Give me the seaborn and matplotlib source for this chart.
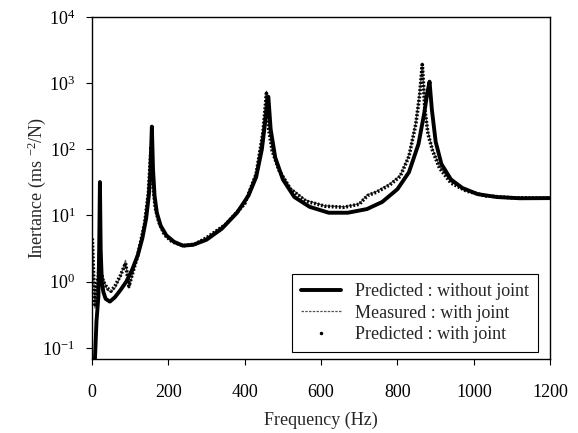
import numpy as np
import matplotlib
matplotlib.use("Agg")
import matplotlib.pyplot as plt
from matplotlib.lines import Line2D
import seaborn as sns
from matplotlib.ticker import LogLocator, NullLocator, LogFormatterSciNotation

# Predicted : without joint (thick solid)
f_pred_nj = [7, 12, 17, 19, 21, 23, 26, 30, 36, 47, 60, 75, 90, 105, 120, 132, 142, 149, 153, 157,
             160, 164, 170, 180, 195, 215, 238, 265, 300, 340, 380, 410, 430, 445, 455, 462,
             468, 480, 500, 530, 570, 620, 670, 720, 760, 800, 830, 855, 870, 878, 884,
             890, 900, 915, 940, 970, 1010, 1060, 1120, 1200]
v_pred_nj = [0.05, 0.25, 0.6, 3.0, 32, 3.0, 1.0, 0.7, 0.55, 0.5, 0.58, 0.75, 1.0, 1.5, 2.5, 4.5,
             9, 20, 45, 220, 50, 20, 11, 7, 5, 4.0, 3.5, 3.6, 4.3, 6.3, 11, 20, 38, 100, 300, 620,
             200, 75, 35, 19, 13.5, 11, 11, 12.5, 16, 25, 45, 120, 350, 700, 1050,
             400, 130, 60, 35, 26, 21, 19, 18.2, 18.3]

# Measured : with joint (thin line)
f_meas = [1, 4, 8, 12, 17, 21, 24, 30, 40, 50, 60, 75, 88, 97, 105, 120, 138, 148, 155, 160,
          166, 175, 190, 210, 240, 270, 300, 350, 400, 430, 448, 457, 463, 472, 490, 520,
          560, 610, 660, 700, 712, 722, 745, 780, 807, 830, 848, 858, 865, 872, 880,
          892, 910, 940, 980, 1030, 1100, 1200]
v_meas = [5, 1.5, 0.4, 0.8, 1.3, 4, 1.5, 1.1, 0.75, 0.7, 0.8, 1.2, 2.1, 0.8, 1.2, 2.6, 8, 25, 120, 30,
          14, 8, 5.2, 4.0, 3.5, 3.7, 4.6, 7.5, 16, 45, 200, 750, 220, 100, 50, 26,
          17, 14, 13.5, 15, 18, 20.5, 23, 30, 40, 80, 250, 700, 2000, 400, 180,
          100, 55, 32, 24, 20, 18.5, 18.3]

# Predicted : with joint (dotted)
f_pred_j = [1, 4, 8, 12, 17, 21, 24, 30, 40, 50, 60, 75, 88, 97, 105, 120, 138, 148, 155, 160,
            166, 175, 190, 210, 240, 270, 300, 350, 400, 430, 448, 457, 463, 472, 490, 520,
            560, 610, 660, 700, 712, 722, 745, 780, 807, 830, 848, 858, 865, 872, 880,
            892, 910, 940, 980, 1030, 1100, 1200]
v_pred_j = [4.5, 1.4, 0.45, 0.85, 1.2, 3.5, 1.4, 1.0, 0.8, 0.72, 0.85, 1.25, 1.9, 0.85, 1.25, 2.5, 7.5, 22, 110, 28,
            13, 8, 5.1, 4.0, 3.5, 3.7, 4.6, 7.3, 15, 42, 180, 700, 200, 95, 48, 25,
            16.5, 13.8, 13.3, 14.8, 17.5, 20, 22.5, 29, 39, 78, 240, 650, 1900, 380, 170,
            95, 52, 31, 23.5, 19.8, 18.5, 18.3]

sns.set_style("ticks")
plt.rcParams['font.family'] = ['Liberation Serif', 'DejaVu Serif']
plt.rcParams['mathtext.fontset'] = 'custom'
plt.rcParams['mathtext.rm'] = 'Liberation Serif'
plt.rcParams['mathtext.it'] = 'Liberation Serif:italic'

fig, ax = plt.subplots(figsize=(5.78, 4.33), dpi=100)
fig.subplots_adjust(left=0.159, right=0.952, top=0.961, bottom=0.171)

sns.lineplot(x=f_meas, y=v_meas, ax=ax, color='#555555', linewidth=0.9, sort=False)
sns.lineplot(x=f_pred_j, y=v_pred_j, ax=ax, color='black', linewidth=2.6, sort=False,
             linestyle=(0, (0.5, 0.5)))
sns.lineplot(x=f_pred_nj, y=v_pred_nj, ax=ax, color='black', linewidth=2.8, sort=False)

ax.set_yscale('log')
ax.set_xlim(0, 1200)
ax.set_ylim(0.068, 1e4)
ax.set_xticks([0, 200, 400, 600, 800, 1000, 1200])
ax.yaxis.set_major_locator(LogLocator(base=10, numticks=10))
ax.yaxis.set_major_formatter(LogFormatterSciNotation())
ax.yaxis.set_minor_locator(NullLocator())
ax.tick_params(axis='both', labelsize=13, length=4, width=0.8, direction='out', colors='black')
ax.tick_params(axis='x', pad=14)
ax.tick_params(axis='y', pad=8)
for s in ax.spines.values():
    s.set_linewidth(1.0)
    s.set_color('black')

ax.set_xlabel('Frequency (Hz)', fontsize=13, labelpad=8)
ax.set_ylabel('Inertance (ms $^{-2}$/N)', fontsize=13, labelpad=-4)

handles = [Line2D([], [], color='black', linewidth=2.8),
           Line2D([], [], color='#555555', linewidth=0.9, linestyle=(0, (2, 1))),
           Line2D([], [], color='black', linestyle='none', marker='.', markersize=3)]
labels = ['Predicted : without joint', 'Measured : with joint', 'Predicted : with joint']
leg = ax.legend(handles, labels, loc='lower right', bbox_to_anchor=(0.974, 0.02), fontsize=13,
                frameon=True, fancybox=False, edgecolor='black', framealpha=1,
                borderaxespad=0, borderpad=0.5, handlelength=2.2, labelspacing=0.25,
                handletextpad=0.8)
leg.get_frame().set_linewidth(0.8)

plt.savefig('out.png', dpi=100)
plt.close()
